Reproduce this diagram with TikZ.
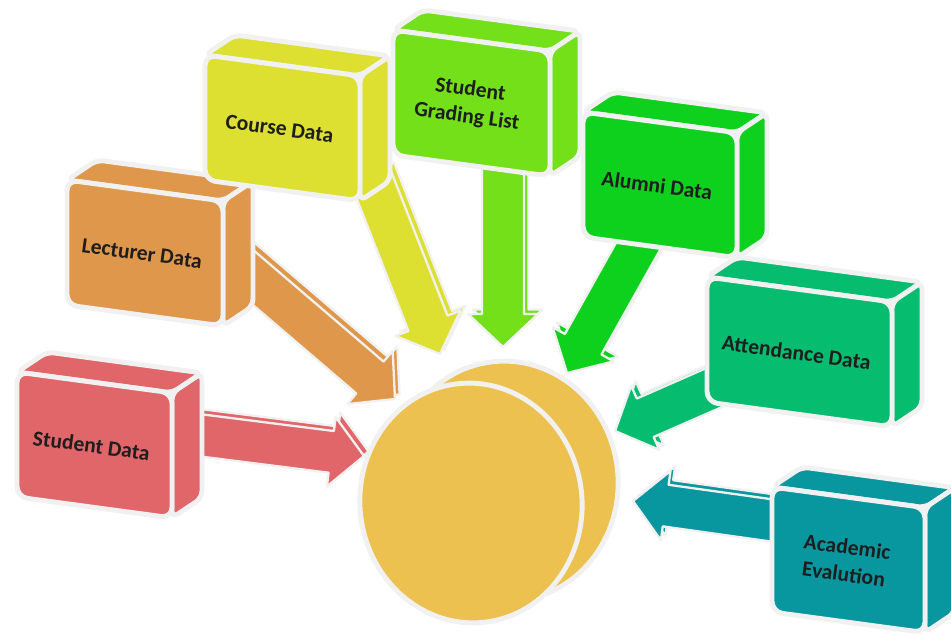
\documentclass[tikz,border=0pt]{standalone}
\usepackage{fontspec}
\setmainfont{Carlito}
\usetikzlibrary{calc}

\definecolor{rimgray}{HTML}{F1F1F1}
\definecolor{labeltext}{HTML}{1E1E1E}

\tikzset{
  rim/.style={draw=rimgray, line width=2.8pt, line join=round},
  thinrim/.style={draw=rimgray, line width=1.3pt, line join=round},
  boxlabel/.style={font=\bfseries\fontsize{12.3}{15.5}\selectfont, text=labeltext, align=center, rotate=-7.7},
}

% 3d box: x, y of front top-left corner, front width, colour, node name, label
\newcommand{\databox}[6]{%
  \begin{scope}[shift={(#1,#2)}]
    \filldraw[rim, fill=#4, rounded corners=4pt] (0,0) -- (30,-20) -- (#3+30,0.135*#3-20) -- (#3,0.135*#3) -- cycle;
    \filldraw[rim, fill=#4, rounded corners=4pt] (#3,0.135*#3) -- (#3+30,0.135*#3-20) -- (#3+30,0.135*#3+105) -- (#3,0.135*#3+125) -- cycle;
    \filldraw[rim, fill=#4, rounded corners=6pt] (0,0) -- (#3,0.135*#3) -- (#3,0.135*#3+125) -- (0,125) -- cycle;
    \node[boxlabel] (#5) at (#3/2-3,0.0675*#3+63) {#6};
  \end{scope}}

% block arrow with a thin raised edge: start, tip, colour
\newcommand{\flowarrow}[3]{%
  \coordinate (#1-base) at ($(#2)!0.66cm!(#1)$);
  \foreach \lift in {1,0}
    \filldraw[thinrim, fill=#3, transform canvas={shift={(2.6pt*\lift,2.6pt*\lift)}}]
      ($(#1)!0.42cm!90:(#2)$) -- ($(#1-base)!0.42cm!90:(#2)$) -- ($(#1-base)!0.7cm!90:(#2)$)
      -- (#2) -- ($(#1-base)!0.7cm!-90:(#2)$) -- ($(#1-base)!0.42cm!-90:(#2)$)
      -- ($(#1)!0.42cm!-90:(#2)$) -- cycle;
}

\begin{document}
\begin{tikzpicture}[x=0.02cm, y=-0.02cm]
  % Define colors
  \definecolor{studentfill}{HTML}{E0666A}
  \definecolor{lecturerfill}{HTML}{DF984B}
  \definecolor{coursefill}{HTML}{DDE031}
  \definecolor{gradingfill}{HTML}{73E01A}
  \definecolor{alumnifill}{HTML}{0ED11E}
  \definecolor{attendfill}{HTML}{05BC6F}
  \definecolor{academicfill}{HTML}{08979F}
  \definecolor{diskfill}{HTML}{EDC150}

  \useasboundingbox (0,0) rectangle (951,638);

  % Arrow ends
  \coordinate (student-out) at (190,434);
  \coordinate (student-in) at (364,456);
  \coordinate (lecturer-out) at (235,262);
  \coordinate (lecturer-in) at (395,399);
  \coordinate (course-out) at (370,175);
  \coordinate (course-in) at (440,354);
  \coordinate (grading-out) at (503,150);
  \coordinate (grading-in) at (503,347);
  \coordinate (alumni-out) at (650,225);
  \coordinate (alumni-in) at (567,373);
  \coordinate (attend-out) at (720,385);
  \coordinate (attend-in) at (615,431);
  \coordinate (academic-out) at (790,523);
  \coordinate (academic-in) at (633,501);

  % Arrows into the store
  \flowarrow{student-out}{student-in}{studentfill}
  \flowarrow{lecturer-out}{lecturer-in}{lecturerfill}
  \flowarrow{course-out}{course-in}{coursefill}
  \flowarrow{grading-out}{grading-in}{gradingfill}
  \flowarrow{alumni-out}{alumni-in}{alumnifill}
  \flowarrow{attend-out}{attend-in}{attendfill}
  \flowarrow{academic-out}{academic-in}{academicfill}

  % Data boxes
  \databox{67}{180}{156}{lecturerfill}{lecturer}{Lecturer Data}
  \databox{205}{55}{155}{coursefill}{course}{Course Data}
  \databox{393}{30}{157}{gradingfill}{grading}{Student\\Grading List}
  \databox{583}{112}{154}{alumnifill}{alumni}{Alumni Data}
  \databox{707}{277}{185}{attendfill}{attend}{Attendance Data}
  \databox{17}{372}{155}{studentfill}{student}{Student Data}
  \databox{772}{487}{153}{academicfill}{academic}{Academic\\Evalution}

  % Central store (disk)
  \filldraw[rim, fill=diskfill, rotate around={7:(506,481)}] (506,481) ellipse [x radius=112, y radius=120];
  \filldraw[rim, fill=diskfill, rotate around={7:(471,503)}] (471,503) ellipse [x radius=111, y radius=120];
\end{tikzpicture}
\end{document}
